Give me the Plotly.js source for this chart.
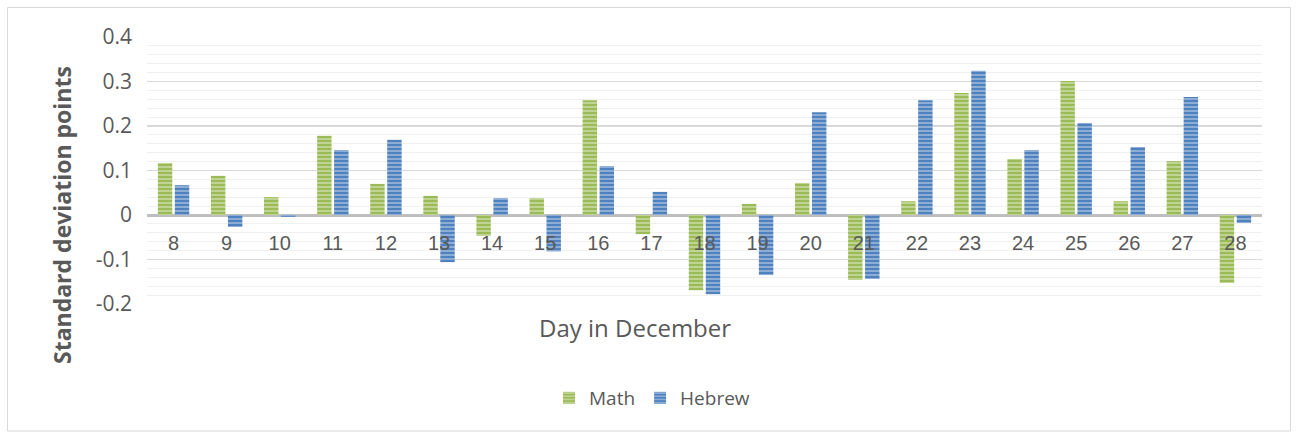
<!DOCTYPE html>
<html><head><meta charset="utf-8">
<script src="https://cdn.plot.ly/plotly-3.0.1.min.js"></script>
<style>html,body{margin:0;padding:0;background:#fff}#chart{width:1298px;height:433px}</style>
</head><body><div id="chart"></div>
<script>
const days = ['8','9','10','11','12','13','14','15','16','17','18','19','20','21','22','23','24','25','26','27','28'];
const mathVals = [0.117,0.088,0.040,0.178,0.070,0.043,-0.047,0.038,0.258,-0.043,-0.169,0.025,0.072,-0.146,0.031,0.274,0.126,0.301,0.031,0.121,-0.153];
const hebrewVals = [0.067,-0.027,-0.004,0.146,0.169,-0.106,0.038,-0.082,0.110,0.052,-0.178,-0.135,0.231,-0.144,0.258,0.324,0.146,0.207,0.153,0.265,-0.018];
const yTickVals = [-0.2,-0.1,0,0.1,0.2,0.3,0.4];
const yTickText = ['-0.2','-0.1','0','0.1','0.2','0.3','0.4'];

const W = 1298, H = 433;
const M = {l:147, r:36, t:37, b:129};
const pw = W - M.l - M.r, ph = H - M.t - M.b;
const px = v => (v - M.l) / pw;
const py = v => 1 - (v - M.t) / ph;
const yMin = -0.2, yMax = 0.4;

const grey = '#595959';
const F = 'Open Sans, Liberation Sans, sans-serif';
const traces = [
  {type:'bar', name:'Math', x:days, y:mathVals,
   marker:{color:'#9BBB59', line:{width:0},
     pattern:{shape:'-', fillmode:'replace', bgcolor:'#9BBB59', fgcolor:'#cfe0a8', size:4, solidity:0.35}}},
  {type:'bar', name:'Hebrew', x:days, y:hebrewVals,
   marker:{color:'#4F81BD', line:{width:0},
     pattern:{shape:'-', fillmode:'replace', bgcolor:'#4F81BD', fgcolor:'#a7c0e0', size:4, solidity:0.35}}}
];

const layout = {
  width:W, height:H,
  margin:{l:M.l, r:M.r, t:M.t, b:M.b},
  paper_bgcolor:'#fff', plot_bgcolor:'#fff',
  barmode:'group', bargap:0.36, bargroupgap:0.15,
  showlegend:true,
  legend:{orientation:'h', x:px(652), xanchor:'center', y:py(398), yanchor:'middle',
    font:{family:F, size:19, color:grey}, traceorder:'normal',
    itemwidth:30, tracegroupgap:0},
  xaxis:{type:'category', anchor:'free', position:(0 - yMin)/(yMax - yMin),
    showline:false, showgrid:false, ticks:'', ticklabelstandoff:14,
    tickfont:{family:'Liberation Sans, Arial, sans-serif', size:20, color:grey}},
  yaxis:{range:[yMin, yMax], tickvals:yTickVals, ticktext:yTickText,
    showline:false, ticks:'', ticklabelstandoff:14,
    gridcolor:'#d9d9d9', gridwidth:1.5,
    zeroline:true, zerolinecolor:'#bfbfbf', zerolinewidth:3,
    minor:{dtick:0.02, showgrid:true, gridcolor:'#f0f0f0', gridwidth:1},
    tickfont:{family:F, size:21, color:grey}},
  annotations:[
    {text:'Day in December', xref:'paper', yref:'paper', x:px(635), y:py(327), xanchor:'center', yanchor:'middle',
     showarrow:false, font:{family:F, size:24, color:grey}},
    {text:'<b>Standard deviation points</b>', xref:'paper', yref:'paper', x:px(62), y:py(215), xanchor:'center', yanchor:'middle',
     textangle:-90, showarrow:false, font:{family:F, size:23, color:grey}}
  ],
  shapes:[
    {type:'rect', xref:'paper', yref:'paper', x0:px(7.5), x1:px(1290.5), y0:py(7.5), y1:py(431), line:{color:'#d9d9d9', width:1}, layer:'below'}
  ]
};
Plotly.newPlot('chart', traces, layout, {displayModeBar:false, staticPlot:true});
</script></body></html>
